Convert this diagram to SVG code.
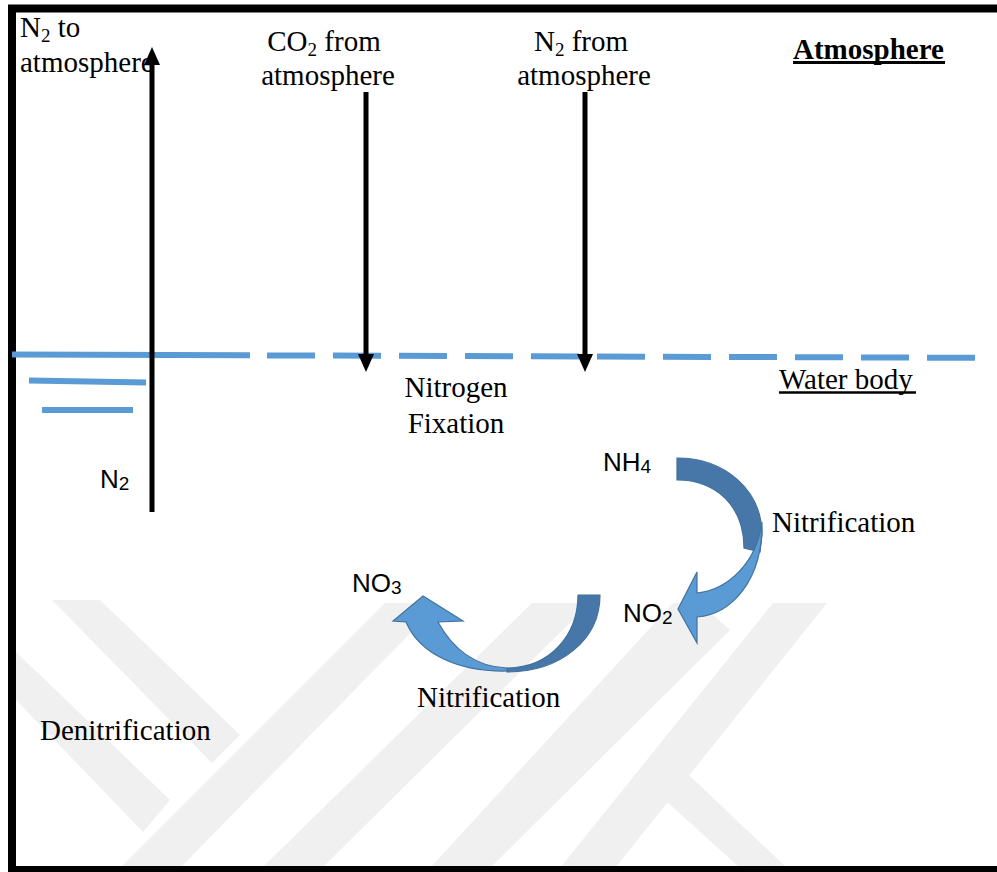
<svg xmlns="http://www.w3.org/2000/svg" width="997" height="872" viewBox="0 0 997 872">
  <style>
    .serif { font-family: "Liberation Serif", "Times New Roman", serif; font-size: 29px; fill: #000; }
    .sans { font-family: "Liberation Sans", Arial, sans-serif; font-size: 26px; fill: #000; }
    .water { stroke: #5b9bd5; stroke-width: 6; fill: none; }
    .flux { stroke: #000; stroke-width: 5; fill: none; }
    .dark { fill: #4677a8; stroke: #41719c; stroke-width: 1.2; }
    .light { fill: #5b9bd5; stroke: #41719c; stroke-width: 1.2; }
    .mark { fill: #f0f0f0; }
  </style>
  <defs>
    <!-- solid triangular head, base placed at the line end -->
    <marker id="head" viewBox="0 0 18 16" refX="0" refY="8" markerWidth="18" markerHeight="16" markerUnits="userSpaceOnUse" orient="auto">
      <path d="M0,0 L18,8 L0,16 Z" fill="#000"/>
    </marker>
  </defs>

  <rect width="997" height="872" fill="#fff"/>

  <!-- faint background emblem -->
  <g id="emblem">
    <polygon class="mark" points="52,600 100,600 240,735 212,763"/>
    <polygon class="mark" points="16,652 16,700 143,832 170,800"/>
    <polygon class="mark" points="120,868 180,868 440,603 385,603"/>
    <polygon class="mark" points="262,868 322,868 590,603 532,603"/>
    <polygon class="mark" points="430,868 490,868 730,630 700,603 673,603"/>
    <polygon class="mark" points="560,868 615,868 827,603 773,603"/>
    <polygon class="mark" points="643,780 670,757 787,868 740,868"/>
  </g>

  <!-- frame -->
  <path d="M12,872 V8.5 H997" fill="none" stroke="#000" stroke-width="8"/>
  <line x1="8" y1="869" x2="997" y2="869" stroke="#000" stroke-width="6"/>

  <!-- water surface -->
  <g id="water-surface">
    <line class="water" x1="12" y1="354.5" x2="250" y2="355.3"/>
    <line class="water" x1="267" y1="355.4" x2="977" y2="357.8" stroke-dasharray="48 18"/>
    <line class="water" x1="29" y1="380.5" x2="146" y2="382.5"/>
    <line class="water" x1="42" y1="410" x2="133" y2="410"/>
  </g>

  <!-- gas exchange arrows -->
  <g id="connectors">
    <line class="flux" x1="152" y1="512" x2="152" y2="65" marker-end="url(#head)"/>
    <line class="flux" x1="366" y1="92" x2="366" y2="354" marker-end="url(#head)"/>
    <line class="flux" x1="585" y1="92" x2="585" y2="354" marker-end="url(#head)"/>
  </g>

  <!-- nitrification arrows -->
  <g id="nh4-to-no2">
    <path class="dark" d="M677,458 C725,458 762,490 762,535 L760,552 L744,548 C744,505 715,480 677,480 Z"/>
    <path class="light" d="M762,522 C763,580 732,614 697,617 L697,643 L678,609 L697,572 L697,593 C728,590 757,562 762,522 Z"/>
  </g>
  <g id="no2-to-no3">
    <path class="dark" d="M600,595 C600,640 560,672 507,672 L507,668 C550,668 578,635 578,595 Z"/>
    <path class="light" d="M507,671 C460,672 420,655 406,622 L393,621 L423,596 L463,621 L438,622 C452,648 475,667 507,668 Z"/>
  </g>

  <!-- labels -->
  <g id="n2-out">
    <text class="serif" x="20" y="37">N<tspan font-size="19" dy="5">2</tspan><tspan dy="-5"> to</tspan></text>
    <text class="serif" x="20" y="72">atmosphere</text>
  </g>
  <g id="co2-in">
    <text class="serif" x="324" y="51" text-anchor="middle">CO<tspan font-size="19" dy="5">2</tspan><tspan dy="-5"> from</tspan></text>
    <text class="serif" x="328" y="85" text-anchor="middle">atmosphere</text>
  </g>
  <g id="n2-in">
    <text class="serif" x="581" y="51" text-anchor="middle">N<tspan font-size="19" dy="5">2</tspan><tspan dy="-5"> from</tspan></text>
    <text class="serif" x="584" y="85" text-anchor="middle">atmosphere</text>
  </g>
  <g id="atmosphere">
    <text class="serif" x="793" y="59" font-weight="bold">Atmosphere</text>
    <line x1="793" y1="62.5" x2="945" y2="62.5" stroke="#000" stroke-width="3"/>
  </g>
  <g id="water-body">
    <text class="serif" x="779" y="389">Water body</text>
    <line x1="779" y1="392.5" x2="916" y2="392.5" stroke="#000" stroke-width="2.5"/>
  </g>
  <g id="fixation">
    <text class="serif" x="456" y="397" text-anchor="middle">Nitrogen</text>
    <text class="serif" x="456" y="433" text-anchor="middle">Fixation</text>
  </g>
  <g id="nitrification-1">
    <text class="serif" x="772" y="532">Nitrification</text>
  </g>
  <g id="nitrification-2">
    <text class="serif" x="417" y="707">Nitrification</text>
  </g>
  <g id="denitrification">
    <text class="serif" x="40" y="740">Denitrification</text>
  </g>
  <g id="nh4">
    <text class="sans" x="603" y="471">NH<tspan font-size="19" dy="2">4</tspan></text>
  </g>
  <g id="no2">
    <text class="sans" x="623" y="622">NO<tspan font-size="19" dy="2">2</tspan></text>
  </g>
  <g id="no3">
    <text class="sans" x="352" y="592">NO<tspan font-size="19" dy="2">3</tspan></text>
  </g>
  <g id="n2">
    <text class="sans" x="100" y="488">N<tspan font-size="19" dy="2">2</tspan></text>
  </g>
</svg>
